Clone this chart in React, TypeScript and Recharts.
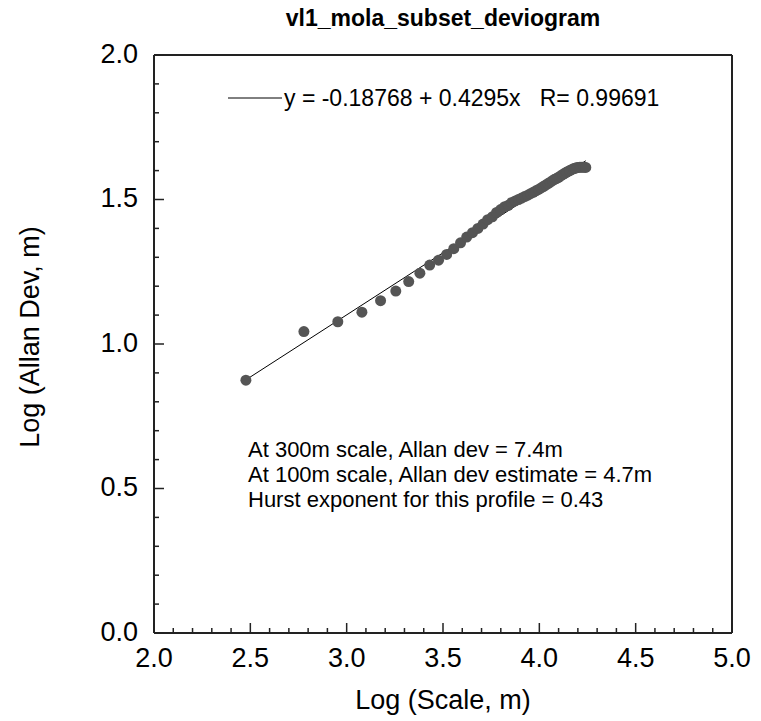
import { ScatterChart, Scatter, XAxis, YAxis } from 'recharts'

// log10 of lag distance (m) and log10 of Allan deviation (m)
const logScale = [
  2.477, 2.778, 2.954, 3.079, 3.176, 3.255, 3.322, 3.38, 3.431, 3.477,
  3.519, 3.556, 3.591, 3.623, 3.653, 3.681, 3.708, 3.732, 3.756, 3.778,
  3.799, 3.82, 3.839, 3.857, 3.875, 3.892, 3.908, 3.924, 3.94, 3.954,
  3.968, 3.982, 3.996, 4.009, 4.021, 4.033, 4.045, 4.057, 4.068, 4.079,
  4.09, 4.1, 4.111, 4.121, 4.13, 4.14, 4.149, 4.158, 4.167, 4.176,
  4.185, 4.193, 4.201, 4.21, 4.217, 4.225, 4.233, 4.241,
]
const logAllanDev = [
  0.875, 1.043, 1.077, 1.11, 1.15, 1.183, 1.216, 1.245, 1.273, 1.29,
  1.31, 1.33, 1.35, 1.37, 1.385, 1.4, 1.415, 1.43, 1.44, 1.455,
  1.465, 1.475, 1.48, 1.49, 1.495, 1.5, 1.505, 1.51, 1.515, 1.52,
  1.525, 1.53, 1.535, 1.54, 1.545, 1.55, 1.555, 1.56, 1.565, 1.57,
  1.573, 1.577, 1.582, 1.586, 1.59, 1.594, 1.597, 1.6, 1.603, 1.606,
  1.608, 1.61, 1.611, 1.612, 1.612, 1.612, 1.612, 1.611,
]

// regression line end points
const fitX = [2.477, 4.241]
const fitY = [0.876, 1.634]

const xTicks = [
  2.0, 2.1, 2.2, 2.3, 2.4, 2.5, 2.6, 2.7, 2.8, 2.9, 3.0, 3.1, 3.2, 3.3, 3.4, 3.5,
  3.6, 3.7, 3.8, 3.9, 4.0, 4.1, 4.2, 4.3, 4.4, 4.5, 4.6, 4.7, 4.8, 4.9, 5.0,
]
const yTicks = [
  0.0, 0.1, 0.2, 0.3, 0.4, 0.5, 0.6, 0.7, 0.8, 0.9, 1.0,
  1.1, 1.2, 1.3, 1.4, 1.5, 1.6, 1.7, 1.8, 1.9, 2.0,
]

const notes = [
  'At 300m scale, Allan dev = 7.4m',
  'At 100m scale, Allan dev estimate = 4.7m',
  'Hurst exponent for this profile = 0.43',
]

const points = logScale.map((x, i) => ({ x, y: logAllanDev[i] }))
const fitLine = fitX.map((x, i) => ({ x, y: fitY[i] }))

const FONT = '"Liberation Sans", Arial, sans-serif'
const INK = '#222'

const isMajor = (v: number) => Math.abs(v * 2 - Math.round(v * 2)) < 1e-6

function XTick(props: any) {
  const { x, y, payload, side } = props
  const v = payload.value
  const len = isMajor(v) ? 10 : 5
  const dir = side === 'bottom' ? -1 : 1
  return (
    <g>
      <line x1={x} x2={x} y1={y} y2={y + dir * len} stroke={INK} strokeWidth={1.5} />
      {side === 'bottom' && isMajor(v) && (
        <text x={x} y={y + 15} dy="0.71em" textAnchor="middle" fontSize={27} fill="#000" fontFamily={FONT}>
          {v.toFixed(1)}
        </text>
      )}
    </g>
  )
}

function YTick(props: any) {
  const { x, y, payload, side } = props
  const v = payload.value
  const len = isMajor(v) ? 10 : 5
  const dir = side === 'left' ? 1 : -1
  return (
    <g>
      <line x1={x} x2={x + dir * len} y1={y} y2={y} stroke={INK} strokeWidth={1.5} />
      {side === 'left' && isMajor(v) && (
        <text x={x - 16} y={y - 2} dy="0.355em" textAnchor="end" fontSize={27} fill="#000" fontFamily={FONT}>
          {v.toFixed(1)}
        </text>
      )}
    </g>
  )
}

const axisLine = { stroke: INK, strokeWidth: 2 }

export default function App() {
  return (
    <div style={{ position: 'absolute', left: 0, top: 0, width: 761, height: 721, background: '#fff' }}>
      <ScatterChart width={761} height={721} margin={{ top: 25, right: 0, bottom: 0, left: 0 }}>
        <XAxis
          xAxisId="b" dataKey="x" type="number" domain={[2, 5]} ticks={xTicks} interval={0}
          orientation="bottom" height={88} tickLine={false} tickSize={0} tickMargin={0}
          axisLine={axisLine} tick={(p: any) => <XTick {...p} side="bottom" />}
        />
        <XAxis
          xAxisId="t" dataKey="x" type="number" domain={[2, 5]} ticks={xTicks} interval={0}
          orientation="top" height={30} tickLine={false} tickSize={0} tickMargin={0}
          axisLine={axisLine} tick={(p: any) => <XTick {...p} side="top" />}
        />
        <YAxis
          yAxisId="l" dataKey="y" type="number" domain={[0, 2]} ticks={yTicks} interval={0}
          orientation="left" width={154} tickLine={false} tickSize={0} tickMargin={0}
          axisLine={axisLine} tick={(p: any) => <YTick {...p} side="left" />}
        />
        <YAxis
          yAxisId="r" dataKey="y" type="number" domain={[0, 2]} ticks={yTicks} interval={0}
          orientation="right" width={29} tickLine={false} tickSize={0} tickMargin={0}
          axisLine={axisLine} tick={(p: any) => <YTick {...p} side="right" />}
        />
        <Scatter
          data={fitLine} xAxisId="b" yAxisId="l" line={{ stroke: '#000', strokeWidth: 1 }}
          shape={() => <g />} isAnimationActive={false} legendType="none"
        />
        <Scatter
          data={points} xAxisId="b" yAxisId="l" isAnimationActive={false}
          shape={(p: any) => <circle cx={p.cx} cy={p.cy} r={5.5} fill="#555" />}
        />

        <text x={443} y={26} textAnchor="middle" fontSize={23} fontWeight="bold" fontFamily={FONT} fill="#000">
          vl1_mola_subset_deviogram
        </text>
        <line x1={228} x2={282} y1={98} y2={98} stroke="#000" strokeWidth={1} />
        <text x={284} y={106} fontSize={23} fontFamily={FONT} fill="#000" xmlSpace="preserve">
          {'y = -0.18768 + 0.4295x   R= 0.99691'}
        </text>
        {notes.map((t, i) => (
          <text key={t} x={248} y={457 + i * 25} fontSize={22} fontFamily={FONT} fill="#000">
            {t}
          </text>
        ))}
        <text x={443} y={709} textAnchor="middle" fontSize={27} fontFamily={FONT} fill="#000">
          Log (Scale, m)
        </text>
        <text
          x={30} y={337} textAnchor="middle" dominantBaseline="central" fontSize={27}
          fontFamily={FONT} fill="#000" transform="rotate(-90 30 337)"
        >
          Log (Allan Dev, m)
        </text>
      </ScatterChart>
    </div>
  )
}
